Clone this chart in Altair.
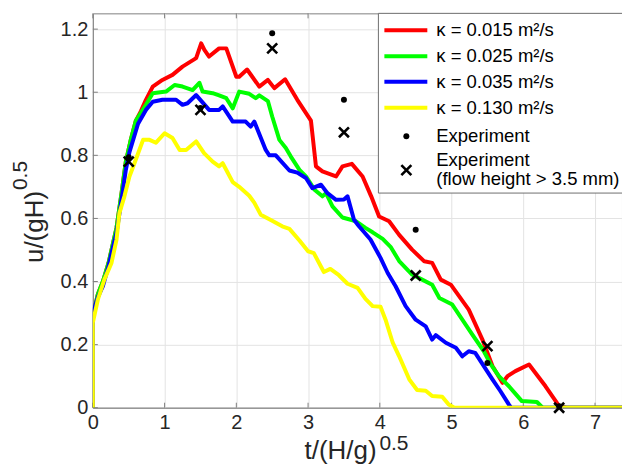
import altair as alt
import pandas as pd

# ---------------- data ----------------
red_t = [0, 0, 0.07, 0.14, 0.22, 0.26, 0.33, 0.40, 0.46, 0.53, 0.60, 0.67, 0.74, 0.835, 0.97, 1.11, 1.25, 1.44, 1.51,
         1.555, 1.62, 1.76, 1.86, 2.0, 2.04, 2.15, 2.32, 2.44, 2.53, 2.68, 2.85, 3.04, 3.11, 3.2, 3.39, 3.48, 3.61,
         3.76, 3.88, 3.99, 4.13, 4.27, 4.45, 4.62, 4.73, 4.85, 4.99, 5.24, 5.43, 5.57, 5.71, 5.78, 5.89, 6.08, 6.31,
         6.50, 6.6, 7.4]
red_u = [0, 0.29, 0.36, 0.40, 0.46, 0.50, 0.57, 0.68, 0.78, 0.85, 0.91, 0.94, 0.976, 1.018, 1.039, 1.055, 1.081,
         1.108, 1.155, 1.134, 1.113, 1.139, 1.139, 1.049, 1.049, 1.072, 1.018, 1.039, 1.013, 1.041, 0.976, 0.91,
         0.765, 0.749, 0.733, 0.765, 0.773, 0.733, 0.67, 0.606, 0.591, 0.548, 0.501, 0.464, 0.459, 0.406, 0.39,
         0.311, 0.216, 0.132, 0.079, 0.1, 0.116, 0.137, 0.068, 0.005, 0, 0]

green_t = [0, 0, 0.07, 0.14, 0.22, 0.26, 0.33, 0.40, 0.46, 0.53, 0.60, 0.67, 0.74, 0.835, 1.02, 1.14, 1.25, 1.39,
           1.485, 1.53, 1.67, 1.76, 1.86, 1.95, 2.04, 2.18, 2.27, 2.32, 2.44, 2.50, 2.6, 2.69, 2.76, 2.88, 2.97,
           3.09, 3.2, 3.25, 3.34, 3.48, 3.67, 3.80, 3.90, 4.04, 4.15, 4.27, 4.45, 4.59, 4.73, 4.83, 5.01, 5.15,
           5.29, 5.45, 5.54, 5.66, 5.80, 5.98, 6.19, 6.27, 7.4]
green_u = [0, 0.29, 0.36, 0.40, 0.46, 0.50, 0.57, 0.68, 0.78, 0.85, 0.91, 0.935, 0.96, 0.997, 1.002, 1.023, 1.018,
           1.007, 1.03, 1.002, 0.997, 0.99, 0.981, 0.949, 1.002, 0.995, 0.981, 0.99, 0.972, 0.923, 0.849, 0.823,
           0.796, 0.754, 0.733, 0.691, 0.67, 0.68, 0.638, 0.603, 0.591, 0.57, 0.556, 0.535, 0.51, 0.465, 0.422,
           0.406, 0.39, 0.348, 0.327, 0.279, 0.232, 0.179, 0.14, 0.1, 0.068, 0.021, 0.018, 0, 0]

blue_t = [0, 0, 0.07, 0.14, 0.22, 0.26, 0.33, 0.40, 0.46, 0.51, 0.63, 0.74, 0.835, 0.97, 1.16, 1.25, 1.32, 1.44,
          1.62, 1.76, 1.81, 1.95, 2.13, 2.2, 2.25, 2.41, 2.46, 2.55, 2.74, 2.85, 2.97, 3.06, 3.18, 3.27, 3.39, 3.5,
          3.55, 3.64, 3.71, 3.87, 4.01, 4.11, 4.22, 4.36, 4.5, 4.64, 4.73, 4.78, 4.92, 5.06, 5.15, 5.24, 5.33,
          5.45, 5.57, 5.68, 5.80, 5.83, 7.4]
blue_u = [0, 0.30, 0.35, 0.385, 0.45, 0.49, 0.554, 0.66, 0.754, 0.81, 0.90, 0.944, 0.97, 0.976, 0.976, 0.96,
          0.965, 0.991, 0.944, 0.944, 0.955, 0.907, 0.907, 0.891, 0.907, 0.817, 0.80, 0.80, 0.752, 0.745, 0.728,
          0.696, 0.707, 0.68, 0.659, 0.66, 0.67, 0.596, 0.575, 0.533, 0.475, 0.427, 0.385, 0.322, 0.279, 0.258,
          0.216, 0.23, 0.206, 0.19, 0.163, 0.179, 0.174, 0.132, 0.09, 0.053, 0.01, 0, 0]

yellow_t = [0, 0, 0.07, 0.16, 0.26, 0.33, 0.37, 0.44, 0.51, 0.58, 0.70, 0.79, 0.88, 1.0, 1.11, 1.21, 1.30, 1.44,
            1.55, 1.67, 1.76, 1.81, 1.95, 2.04, 2.18, 2.25, 2.34, 2.48, 2.64, 2.74, 2.88, 3.0, 3.08, 3.22, 3.31,
            3.43, 3.55, 3.69, 3.80, 3.90, 4.01, 4.08, 4.18, 4.27, 4.41, 4.52, 4.64, 4.73, 4.87, 4.96, 5.04, 7.4]
yellow_u = [0, 0.27, 0.343, 0.406, 0.459, 0.533, 0.617, 0.67, 0.733, 0.775, 0.849, 0.849, 0.84, 0.87, 0.855,
            0.817, 0.817, 0.844, 0.807, 0.78, 0.765, 0.775, 0.715, 0.70, 0.672, 0.65, 0.612, 0.595, 0.575, 0.567,
            0.53, 0.496, 0.49, 0.43, 0.44, 0.42, 0.393, 0.38, 0.345, 0.322, 0.32, 0.279, 0.206, 0.163, 0.09,
            0.056, 0.054, 0.037, 0.035, 0.01, 0, 0]

exp_t = [0.5, 1.5, 2.5, 3.5, 4.5, 5.5, 6.5]
exp_u = [0.794, 0.95, 1.187, 0.976, 0.564, 0.142, 0.005]
exp_h_u = [0.78, 0.944, 1.139, 0.873, 0.419, 0.195, 0.0]

series_labels = ["κ = 0.015 m²/s", "κ = 0.025 m²/s", "κ = 0.035 m²/s", "κ = 0.130 m²/s"]
series_colors = ["#ff0000", "#00ff00", "#0000ff", "#ffff00"]
exp_labels = ["Experiment", "Experiment", "(flow height > 3.5 mm)"]

x_ticks = [0, 1, 2, 3, 4, 5, 6, 7]
y_ticks = [0, 0.2, 0.4, 0.6, 0.8, 1.0, 1.2]

# ---------------- layout ----------------
W, H = 530, 395
X_MAX = 7.376
Y_MAX = 1.25
FONT = "Liberation Sans"
TXT = "#262626"
AX = "#808080"
CROSS = "M-1,-1L1,1M-1,1L1,-1"
LEG_FS = 18.5

xs = alt.Scale(domain=[0, X_MAX], nice=False, zero=False)
ys = alt.Scale(domain=[0, Y_MAX], nice=False, zero=False)

x_axis = alt.Axis(values=x_ticks, grid=True, gridColor="#e3e3e3", ticks=False, labelPadding=5,
                  labelFontSize=20, labelFont=FONT, labelColor=TXT, domainColor=AX, title=None,
                  labelFlush=False, labelOverlap=False)
y_axis = alt.Axis(values=y_ticks, grid=True, gridColor="#e3e3e3", ticks=False, labelPadding=5,
                  labelFontSize=20, labelFont=FONT, labelColor=TXT, domainColor=AX, title=None,
                  format="~g", labelFlush=False, labelOverlap=False)


def X(field):
    return alt.X(field, scale=xs, axis=x_axis)


def Y(field):
    return alt.Y(field, scale=ys, axis=y_axis)


def curve(ts, us, color):
    df = pd.DataFrame({"t": ts, "u": us, "i": list(range(len(ts)))})
    return alt.Chart(df).mark_line(color=color, strokeWidth=4, clip=True, strokeJoin="round").encode(
        x=X("t:Q"), y=Y("u:Q"), order="i:Q")


# inward ticks (MATLAB style), drawn under the data
xt_df = pd.DataFrame({"t": x_ticks})
yt_df = pd.DataFrame({"u": y_ticks})
layers = [
    alt.Chart(xt_df).mark_rule(color=AX, strokeWidth=1).encode(
        x=X("t:Q"), y=alt.value(H), y2=alt.value(H - 5)),
    alt.Chart(xt_df).mark_rule(color=AX, strokeWidth=1).encode(
        x=X("t:Q"), y=alt.value(0), y2=alt.value(5)),
    alt.Chart(yt_df).mark_rule(color=AX, strokeWidth=1).encode(
        y=Y("u:Q"), x=alt.value(0), x2=alt.value(5)),
]

layers += [
    curve(red_t, red_u, series_colors[0]),
    curve(green_t, green_u, series_colors[1]),
    curve(blue_t, blue_u, series_colors[2]),
    curve(yellow_t, yellow_u, series_colors[3]),
]

exp_df = pd.DataFrame({"t": exp_t, "u": exp_u, "uh": exp_h_u})
layers.append(alt.Chart(exp_df).mark_point(shape="circle", filled=True, color="black", size=36, opacity=1).encode(
    x=X("t:Q"), y=Y("u:Q")))
layers.append(alt.Chart(exp_df).mark_point(shape=CROSS, filled=False, color="black", size=100, strokeWidth=2.6,
                                           opacity=1).encode(x=X("t:Q"), y=Y("uh:Q")))

# legend
LX0, LX1, LY1 = 286, 532, 180
one = pd.DataFrame({"k": [0]})
layers.append(alt.Chart(one).mark_rect(fill="white", stroke="#6e6e6e", strokeWidth=1).encode(
    x=alt.value(LX0), x2=alt.value(LX1), y=alt.value(0), y2=alt.value(LY1)))
row_y = [17, 43, 68.5, 94.5]
leg_df = pd.DataFrame({"lab": series_labels, "col": series_colors, "ly": row_y})
layers.append(alt.Chart(leg_df).mark_rule(strokeWidth=4).encode(
    x=alt.value(292), x2=alt.value(335), y=alt.Y("ly:Q", scale=None),
    color=alt.Color("col:N", scale=None)))
layers.append(alt.Chart(leg_df).mark_text(align="left", baseline="middle", font=FONT, fontSize=LEG_FS,
                                          color="black").encode(
    x=alt.value(344), y=alt.Y("ly:Q", scale=None), text="lab:N"))
layers.append(alt.Chart(one).mark_point(shape="circle", filled=True, color="black", size=36, opacity=1).encode(
    x=alt.value(314), y=alt.value(123)))
layers.append(alt.Chart(one).mark_point(shape=CROSS, filled=False, color="black", size=100, strokeWidth=2.6,
                                        opacity=1).encode(x=alt.value(314), y=alt.value(157)))
exp_leg_df = pd.DataFrame({"lab": exp_labels, "ly": [123, 146.5, 165.5]})
layers.append(alt.Chart(exp_leg_df).mark_text(align="left", baseline="middle", font=FONT, fontSize=LEG_FS,
                                              color="black").encode(
    x=alt.value(344), y=alt.Y("ly:Q", scale=None), text="lab:N"))

# axis titles with superscripts
layers.append(alt.Chart(one).mark_text(align="left", baseline="alphabetic", font=FONT, fontSize=26, color=TXT,
                                       text="t/(H/g)").encode(x=alt.value(212), y=alt.value(446)))
layers.append(alt.Chart(one).mark_text(align="left", baseline="alphabetic", font=FONT, fontSize=21, color=TXT,
                                       text="0.5").encode(x=alt.value(287), y=alt.value(437)))
layers.append(alt.Chart(one).mark_text(align="center", baseline="alphabetic", font=FONT, fontSize=26, color=TXT,
                                       angle=270, text="u/(gH)").encode(x=alt.value(-50), y=alt.value(214)))
layers.append(alt.Chart(one).mark_text(align="left", baseline="alphabetic", font=FONT, fontSize=21, color=TXT,
                                       angle=270, text="0.5").encode(x=alt.value(-66), y=alt.value(177)))

chart = alt.layer(*layers).properties(
    width=W, height=H,
    padding={"left": 93, "top": 13, "right": 0, "bottom": 57},
    autosize=alt.AutoSizeParams(type="none"),
    background="white",
).configure_view(stroke=AX, strokeWidth=1)

chart.save("out.html", embed_options={"renderer": "svg", "actions": False})
